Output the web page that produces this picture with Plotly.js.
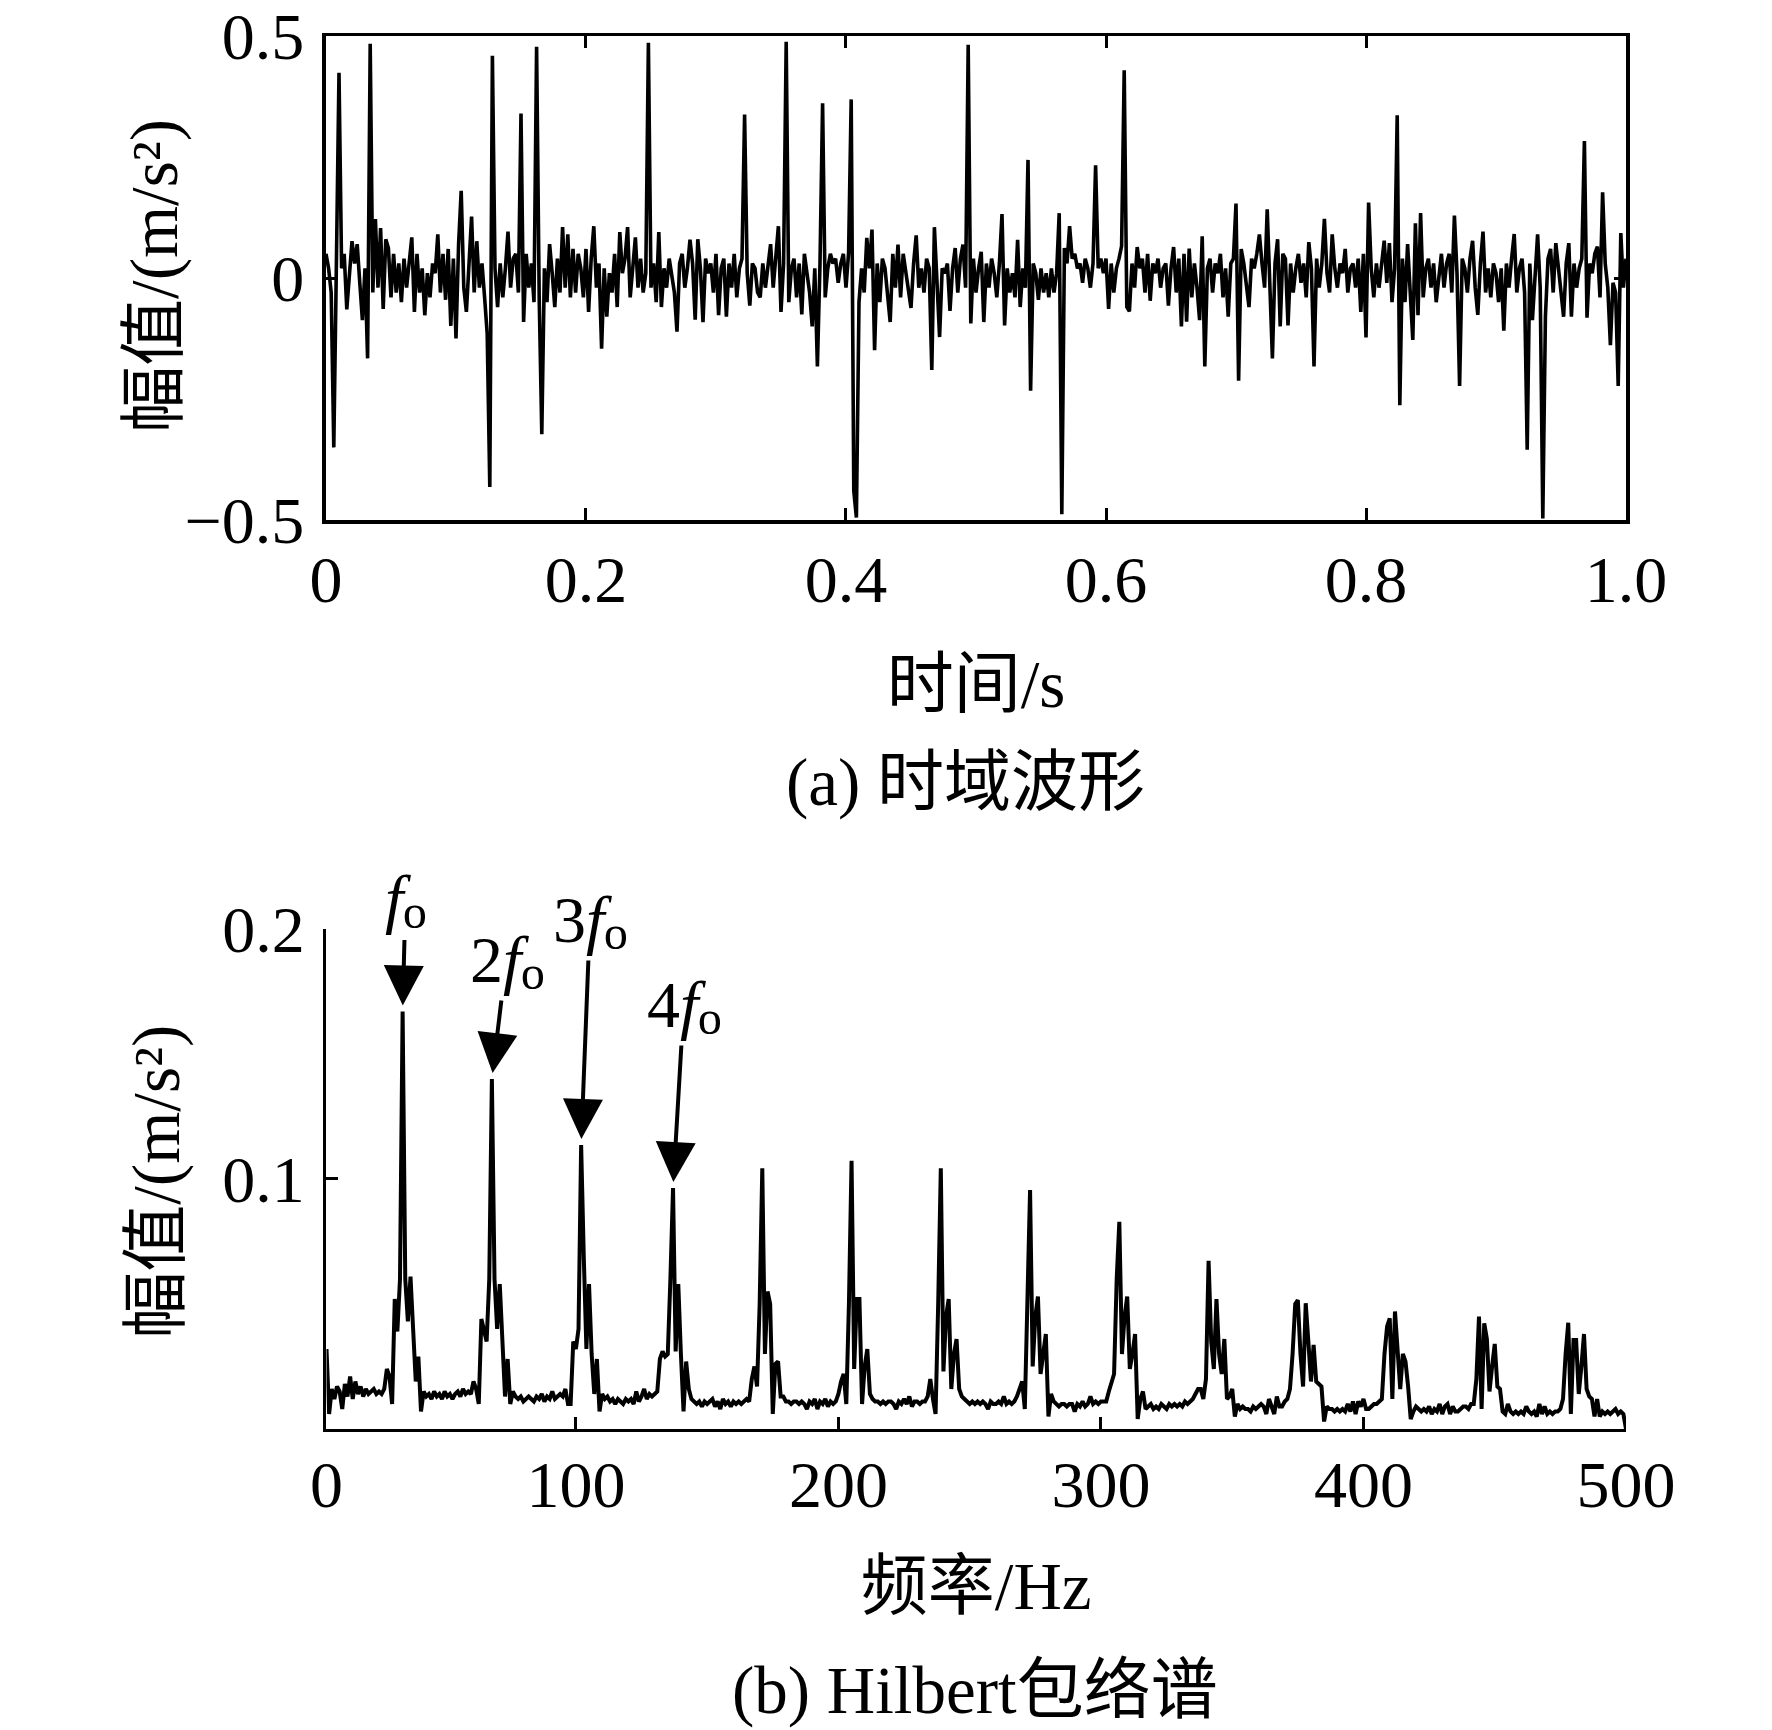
<!DOCTYPE html>
<html>
<head>
<meta charset="utf-8">
<script src="https://cdn.plot.ly/plotly-3.0.1.min.js"></script>
<style>
html,body{margin:0;padding:0;background:#fff;}
#chart{width:1772px;height:1730px;}
</style>
</head>
<body>
<div id="chart"></div>
<script>
// ---------------- data ----------------
// (a) time-domain waveform, sampled every 0.002 s from 0 to 1.0 s
const timeStep = 0.002;
const timeAmplitude = [
 0.05, 0.02, -0.03, -0.35, 0.03, 0.424, 0.02, 0.05, -0.065, 0.01,
 0.076, 0.03, 0.07, -0.01, -0.087, 0.02, -0.166, 0.484, -0.03, 0.122,
 -0.02, 0.103, -0.064, 0.08, 0.062, -0.04, 0.05, -0.03, 0.03, -0.05,
 0.04, -0.02, 0.03, 0.084, -0.07, 0.05, -0.03, 0.02, -0.077, 0.01,
 -0.04, 0.03, 0.01, 0.09, -0.03, 0.05, -0.045, 0.06, -0.099, 0.04,
 -0.125, 0.07, 0.18, -0.02, -0.07, 0.04, 0.127, -0.03, 0.076, -0.02,
 0.03, -0.04, -0.115, -0.432, 0.459, 0.02, -0.06, 0.03, -0.04, 0.02,
 0.096, -0.02, 0.04, 0.05, -0.03, 0.34, -0.091, 0.05, -0.02, 0.03,
 -0.05, 0.478, -0.04, -0.323, 0.02, -0.05, 0.07, 0.01, -0.06, 0.04,
 -0.03, 0.105, -0.02, 0.09, -0.04, 0.06, -0.03, 0.05, 0.02, -0.04,
 0.06, -0.07, 0.04, 0.107, -0.02, 0.03, -0.146, 0.02, -0.08, 0.01,
 -0.03, 0.05, -0.06, 0.095, 0.01, 0.04, 0.105, -0.04, 0.03, 0.084,
 -0.02, 0.04, -0.03, 0.01, 0.486, -0.02, 0.03, -0.05, 0.095, -0.06,
 0.02, -0.02, 0.04, 0.01, -0.03, -0.111, 0.03, 0.05, -0.02, 0.02,
 0.079, 0.03, -0.086, 0.08, 0.02, -0.091, 0.04, 0.01, 0.03, -0.03,
 0.05, -0.077, 0.02, 0.04, -0.08, 0.03, -0.02, 0.05, -0.04, 0.02,
 0.04, 0.338, 0.01, -0.057, 0.03, 0.02, -0.03, -0.04, 0.03, -0.02,
 0.02, 0.07, -0.02, 0.04, 0.107, -0.07, 0.03, 0.488, -0.05, 0.02,
 0.04, -0.04, 0.03, -0.075, 0.05, 0.01, -0.03, -0.1, 0.02, -0.183,
 0.03, 0.361, -0.04, 0.02, 0.05, 0.03, 0.04, -0.01, 0.03, 0.05,
 -0.02, 0.052, 0.369, -0.44, -0.495, -0.05, 0.02, -0.03, 0.083, 0.02,
 0.1, -0.149, 0.03, -0.05, 0.04, 0.02, -0.03, -0.091, 0.05, -0.02,
 0.069, -0.04, 0.05, 0.01, -0.03, -0.062, 0.03, 0.088, -0.02, 0.02,
 -0.03, 0.04, 0.02, -0.19, 0.105, -0.03, -0.122, 0.02, 0.01, 0.03,
 -0.068, 0.02, 0.062, -0.03, 0.04, 0.069, -0.02, 0.482, -0.094, 0.04,
 -0.03, 0.02, 0.054, -0.091, 0.03, -0.02, 0.04, 0.01, -0.04, 0.03,
 0.132, -0.098, 0.02, -0.03, 0.01, -0.04, 0.079, -0.06, 0.02, -0.02,
 0.244, -0.233, 0.03, 0.01, -0.045, 0.02, -0.03, 0.01, -0.04, 0.02,
 -0.03, 0.01, 0.134, -0.488, 0.062, 0.03, 0.107, 0.04, 0.05, 0.02,
 0.03, -0.01, 0.04, 0.02, -0.02, 0.03, 0.233, 0.02, 0.04, 0.01,
 0.04, -0.064, 0.03, -0.03, 0.02, 0.04, 0.066, 0.429, -0.06, -0.069,
 0.03, -0.02, 0.064, 0.02, 0.04, -0.03, 0.05, -0.047, 0.03, 0.01,
 0.04, -0.02, 0.02, 0.03, -0.057, 0.02, 0.064, -0.03, 0.04, -0.1,
 0.05, -0.09, 0.061, -0.04, 0.03, -0.02, -0.087, 0.086, -0.183, 0.02,
 0.04, -0.03, 0.03, 0.01, 0.05, -0.04, 0.02, -0.08, 0.03, 0.04,
 0.154, -0.212, 0.06, 0.03, -0.02, -0.06, 0.04, 0.02, 0.05, 0.09,
 0.03, -0.02, 0.142, 0.01, -0.166, 0.03, 0.08, -0.1, 0.05, 0.04,
 -0.098, 0.03, -0.03, 0.02, 0.05, -0.01, 0.03, -0.04, 0.074, 0.02,
 -0.183, 0.04, -0.02, 0.03, 0.122, 0.01, -0.03, 0.09, 0.02, -0.02,
 0.03, 0.01, 0.06, -0.03, 0.02, 0.03, -0.02, 0.04, -0.07, 0.05,
 -0.123, 0.156, 0.02, -0.04, 0.03, -0.02, 0.03, 0.077, -0.01, 0.072,
 -0.05, 0.02, 0.336, -0.263, 0.04, -0.05, 0.07, -0.03, -0.128, 0.113,
 -0.077, 0.134, -0.04, 0.02, 0.04, -0.02, 0.03, -0.05, 0.01, 0.05,
 -0.02, 0.03, 0.05, -0.03, 0.129, 0.01, -0.223, 0.04, 0.02, -0.03,
 0.04, 0.077, -0.02, -0.076, 0.03, 0.096, -0.03, 0.02, -0.04, 0.03,
 0.01, -0.05, 0.02, -0.109, 0.03, -0.02, 0.04, 0.091, -0.03, 0.02,
 0.04, -0.03, -0.355, 0.03, -0.087, 0.02, 0.09, -0.02, -0.497, -0.08,
 0.04, 0.06, -0.03, 0.072, 0.02, -0.04, -0.08, 0.03, 0.072, -0.08,
 0.03, -0.02, 0.02, 0.04, 0.283, -0.082, 0.03, 0.01, 0.05, 0.065,
 -0.04, 0.177, 0.03, -0.02, -0.139, -0.01, -0.03, -0.223, 0.093, -0.02,
 0.04
];

// (b) Hilbert envelope spectrum, 1 Hz bins from 5 Hz to 500 Hz
const freqStart = 5;
const freqStep = 1;
const envelopeAmplitude = [
 0.032, 0.006, 0.016, 0.012, 0.017, 0.015, 0.008, 0.018, 0.013, 0.021,
 0.012, 0.019, 0.014, 0.017, 0.013, 0.016, 0.014, 0.015, 0.016, 0.014,
 0.015, 0.014, 0.016, 0.024, 0.021, 0.010, 0.052, 0.039, 0.060, 0.167,
 0.060, 0.043, 0.061, 0.040, 0.019, 0.029, 0.007, 0.015, 0.013, 0.014,
 0.012, 0.015, 0.013, 0.014, 0.012, 0.015, 0.013, 0.014, 0.012, 0.014,
 0.015, 0.013, 0.016, 0.014, 0.015, 0.014, 0.019, 0.016, 0.010, 0.044,
 0.040, 0.035, 0.060, 0.140, 0.060, 0.040, 0.058, 0.035, 0.013, 0.028,
 0.010, 0.015, 0.013, 0.012, 0.013, 0.011, 0.012, 0.013, 0.012, 0.011,
 0.013, 0.012, 0.014, 0.011, 0.013, 0.012, 0.015, 0.012, 0.013, 0.014,
 0.013, 0.016, 0.010, 0.010, 0.035, 0.032, 0.040, 0.1136, 0.069, 0.032,
 0.058, 0.030, 0.014, 0.028, 0.007, 0.014, 0.012, 0.013, 0.011, 0.012,
 0.010, 0.012, 0.011, 0.010, 0.012, 0.011, 0.012, 0.010, 0.015, 0.011,
 0.013, 0.016, 0.012, 0.014, 0.013, 0.014, 0.015, 0.028, 0.031, 0.029,
 0.030, 0.060, 0.0964, 0.031, 0.058, 0.030, 0.007, 0.027, 0.016, 0.012,
 0.011, 0.010, 0.011, 0.009, 0.011, 0.010, 0.011, 0.012, 0.009, 0.011,
 0.008, 0.012, 0.010, 0.011, 0.009, 0.011, 0.010, 0.011, 0.010, 0.011,
 0.012, 0.011, 0.020, 0.025, 0.017, 0.050, 0.1043, 0.030, 0.055, 0.050,
 0.006, 0.026, 0.027, 0.013, 0.013, 0.011, 0.011, 0.010, 0.011, 0.011,
 0.010, 0.011, 0.010, 0.008, 0.011, 0.010, 0.012, 0.008, 0.011, 0.010,
 0.012, 0.009, 0.011, 0.010, 0.011, 0.014, 0.019, 0.022, 0.010, 0.050,
 0.1073, 0.024, 0.052, 0.052, 0.010, 0.025, 0.032, 0.014, 0.012, 0.011,
 0.011, 0.010, 0.011, 0.010, 0.011, 0.011, 0.010, 0.008, 0.011, 0.010,
 0.012, 0.010, 0.013, 0.009, 0.011, 0.011, 0.010, 0.011, 0.011, 0.013,
 0.020, 0.012, 0.006, 0.050, 0.1043, 0.023, 0.045, 0.052, 0.016, 0.030,
 0.036, 0.016, 0.013, 0.012, 0.011, 0.010, 0.011, 0.010, 0.011, 0.010,
 0.011, 0.010, 0.008, 0.011, 0.010, 0.010, 0.011, 0.010, 0.013, 0.010,
 0.011, 0.010, 0.011, 0.013, 0.016, 0.019, 0.008, 0.050, 0.0956, 0.025,
 0.045, 0.053, 0.022, 0.030, 0.038, 0.005, 0.014, 0.011, 0.010, 0.009,
 0.010, 0.010, 0.009, 0.010, 0.010, 0.007, 0.010, 0.009, 0.011, 0.009,
 0.010, 0.013, 0.010, 0.011, 0.010, 0.011, 0.011, 0.011, 0.015, 0.018,
 0.022, 0.060, 0.0829, 0.030, 0.045, 0.053, 0.024, 0.030, 0.038, 0.004,
 0.012, 0.015, 0.008, 0.009, 0.010, 0.008, 0.009, 0.008, 0.010, 0.009,
 0.008, 0.010, 0.009, 0.010, 0.009, 0.010, 0.009, 0.011, 0.010, 0.011,
 0.012, 0.014, 0.016, 0.016, 0.012, 0.020, 0.0673, 0.035, 0.024, 0.052,
 0.030, 0.022, 0.036, 0.012, 0.013, 0.016, 0.005, 0.010, 0.008, 0.009,
 0.008, 0.008, 0.007, 0.009, 0.008, 0.009, 0.010, 0.009, 0.006, 0.012,
 0.009, 0.006, 0.013, 0.009, 0.009, 0.011, 0.012, 0.016, 0.030, 0.050,
 0.0516, 0.030, 0.017, 0.0503, 0.035, 0.019, 0.0336, 0.019, 0.018, 0.017,
 0.003, 0.009, 0.008, 0.008, 0.007, 0.008, 0.007, 0.008, 0.007, 0.010,
 0.007, 0.011, 0.006, 0.011, 0.009, 0.012, 0.008, 0.008, 0.009, 0.010,
 0.010, 0.011, 0.012, 0.030, 0.041, 0.0443, 0.012, 0.047, 0.030, 0.016,
 0.030, 0.027, 0.017, 0.004, 0.007, 0.009, 0.008, 0.007, 0.008, 0.007,
 0.009, 0.006, 0.008, 0.007, 0.010, 0.006, 0.009, 0.010, 0.006, 0.009,
 0.007, 0.007, 0.008, 0.009, 0.009, 0.008, 0.010, 0.010, 0.020, 0.045,
 0.008, 0.0423, 0.036, 0.015, 0.025, 0.034, 0.017, 0.016, 0.007, 0.006,
 0.010, 0.007, 0.006, 0.007, 0.006, 0.007, 0.006, 0.009, 0.007, 0.006,
 0.007, 0.005, 0.010, 0.006, 0.009, 0.006, 0.007, 0.006, 0.007, 0.007,
 0.008, 0.012, 0.030, 0.0425, 0.006, 0.0356, 0.0356, 0.014, 0.025, 0.038,
 0.016, 0.013, 0.012, 0.005, 0.012, 0.005, 0.007, 0.006, 0.007, 0.006,
 0.007, 0.008, 0.006, 0.007, 0.006, 0.0
];

// tick values and labels
const timeTicks = [0, 0.2, 0.4, 0.6, 0.8, 1.0];
const timeTickLabels = ['0', '0.2', '0.4', '0.6', '0.8', '1.0'];
const ampTicks = [-0.5, 0, 0.5];
const ampTickLabels = ['\u22120.5', '0', '0.5'];
const freqTicks = [5, 100, 200, 300, 400, 500];
const freqTickLabels = ['0', '100', '200', '300', '400', '500'];
const envTicks = [0.1, 0.2];
const envTickLabels = ['0.1', '0.2'];

// fault characteristic frequency and the labelled harmonics
const faultFreq = 34.1;
const harmonicOrders = [1, 2, 3, 4];
const harmonicPrefixes = ['', '2', '3', '4'];

// ---------------- build the figure ----------------
const timeValues = timeAmplitude.map((_, i) => +(i * timeStep).toFixed(3));
const freqValues = envelopeAmplitude.map((_, i) => freqStart + i * freqStep);

const serif = '"Liberation Serif", "Times New Roman", "DejaVu Serif", "Noto Sans CJK SC", serif';
const tickFont = {family: serif, size: 66, color: '#000'};
const titleFont = {family: serif, size: 67, color: '#000'};
const labelFont = {family: serif, size: 66, color: '#000'};

// locate each labelled harmonic peak in the spectrum data
function peakNear(center) {
  let best = -1;
  for (let i = 0; i < freqValues.length; i++) {
    if (Math.abs(freqValues[i] - center) <= 3 && (best < 0 || envelopeAmplitude[i] > envelopeAmplitude[best])) best = i;
  }
  return {x: freqValues[best], y: envelopeAmplitude[best]};
}
// label offsets (pixels) from each peak to its text
const labelOffsets = [[3, -117], [15, -124], [9, -230], [11, -188]];

const harmonicAnnotations = harmonicOrders.map((k, j) => {
  const p = peakNear(k * faultFreq);
  return {
    x: p.x, y: p.y, xref: 'x2', yref: 'y2',
    text: harmonicPrefixes[j] + '<i>f</i><span style="font-size:80px">\u2092</span>',
    font: labelFont,
    showarrow: true, arrowhead: 2, arrowsize: 2.0, arrowwidth: 4, arrowcolor: '#000',
    standoff: 6, ax: labelOffsets[j][0], ay: labelOffsets[j][1]
  };
});

const traces = [
  {x: timeValues, y: timeAmplitude, xaxis: 'x', yaxis: 'y', type: 'scatter', mode: 'lines',
   line: {color: '#000', width: 3.6}, hoverinfo: 'skip'},
  {x: freqValues, y: envelopeAmplitude, xaxis: 'x2', yaxis: 'y2', type: 'scatter', mode: 'lines',
   line: {color: '#000', width: 4}, hoverinfo: 'skip'}
];

const axisCommon = {
  ticks: 'inside', ticklen: 12, tickwidth: 3, tickcolor: '#000',
  showline: true, linewidth: 3.5, linecolor: '#000',
  showgrid: false, zeroline: false, tickfont: tickFont, fixedrange: true,
  ticklabeloverflow: 'allow'
};

const layout = {
  width: 1772, height: 1730,
  margin: {l: 0, r: 0, t: 0, b: 0},
  paper_bgcolor: '#fff', plot_bgcolor: '#fff',
  showlegend: false,
  xaxis: Object.assign({}, axisCommon, {
    domain: [0.18397, 0.91761], anchor: 'y', range: [0, 1],
    tickmode: 'array', tickvals: timeTicks, ticktext: timeTickLabels,
    mirror: 'ticks', ticklabelstandoff: -1,
    title: {text: '时间/s', font: titleFont, standoff: 46}
  }),
  yaxis: Object.assign({}, axisCommon, {
    domain: [0.69942, 0.97919], anchor: 'x', range: [-0.5, 0.5],
    tickmode: 'array', tickvals: ampTicks, ticktext: ampTickLabels,
    mirror: 'ticks', ticklabelstandoff: 5
  }),
  xaxis2: Object.assign({}, axisCommon, {
    domain: [0.18425, 0.91761], anchor: 'y2', range: [5, 500],
    tickmode: 'array', tickvals: freqTicks, ticktext: freqTickLabels,
    ticklabelstandoff: -5,
    title: {text: '频率/Hz', font: titleFont, standoff: 43}
  }),
  yaxis2: Object.assign({}, axisCommon, {
    domain: [0.17399, 0.46301], anchor: 'x2', range: [0, 0.2],
    tickmode: 'array', tickvals: envTicks, ticktext: envTickLabels,
    ticklabelstandoff: 5
  }),
  annotations: [
    {text: '幅值/(m/s\u00b2)', textangle: -90, xref: 'paper', yref: 'paper',
     x: 0.0875, y: 0.8405, xanchor: 'center', yanchor: 'middle', showarrow: false, font: titleFont},
    {text: '幅值/(m/s\u00b2)', textangle: -90, xref: 'paper', yref: 'paper',
     x: 0.0885, y: 0.3168, xanchor: 'center', yanchor: 'middle', showarrow: false, font: titleFont},
    {text: '(a) 时域波形', xref: 'paper', yref: 'paper', x: 0.5451, y: 0.5474,
     xanchor: 'center', yanchor: 'middle', showarrow: false, font: titleFont},
    {text: '(b) Hilbert包络谱', xref: 'paper', yref: 'paper', x: 0.5503, y: 0.0231,
     xanchor: 'center', yanchor: 'middle', showarrow: false, font: titleFont}
  ].concat(harmonicAnnotations)
};

Plotly.newPlot('chart', traces, layout, {displayModeBar: false, staticPlot: true});
</script>
</body>
</html>
